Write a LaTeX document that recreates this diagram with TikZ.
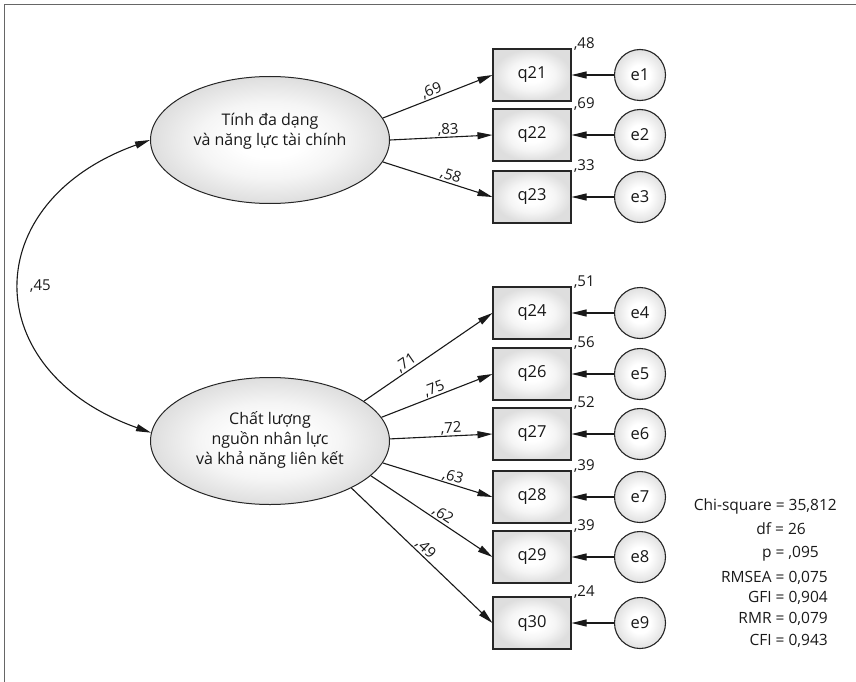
\documentclass[tikz,border=0pt]{standalone}
\usepackage{fontspec}
\setmainfont{Open Sans}
\usetikzlibrary{shapes.geometric,arrows.meta}
\colorlet{glowouter}{black!13}
\colorlet{glowmid}{black!4}
\colorlet{circouter}{black!12}
\pgfdeclareradialshading{boxglow}{\pgfpoint{0bp}{0bp}}{color(0bp)=(white); color(7bp)=(white); color(15bp)=(glowmid); color(25bp)=(glowouter); color(50bp)=(glowouter)}
\pgfdeclareradialshading{circglow}{\pgfpoint{0bp}{0bp}}{color(0bp)=(white); color(10bp)=(white); color(25bp)=(circouter); color(50bp)=(circouter)}
\begin{document}
\begin{tikzpicture}[x=1pt,y=-1pt,
  ln/.style={line width=1.1pt, draw=black!90},
  arr/.style={-{Triangle[length=15pt,width=7pt]}},
  dblarr/.style={{Triangle[length=15pt,width=7pt]}-{Triangle[length=15pt,width=7pt]}},
  latent/.style={ellipse, draw=black!85, line width=1pt, minimum width=239pt, minimum height=127pt, inner sep=0pt, shading=boxglow},
  lattext/.style={align=center, font=\fontsize{16}{20}\selectfont, text=black!90, inner sep=0pt},
  obs/.style={rectangle, draw=black!85, line width=1.1pt, minimum width=78pt, minimum height=52pt, inner sep=0pt, shading=boxglow, font=\fontsize{16.5}{19}\selectfont, text=black!90},
  err/.style={circle, draw=black!85, line width=1.1pt, minimum size=51pt, inner sep=0pt, shading=circglow, font=\fontsize{16.5}{19}\selectfont, text=black!90},
  ld/.style={font=\fontsize{15}{18}\selectfont, sloped, above, inner sep=0.5pt, text=black!90},
  rsq/.style={font=\fontsize{15}{18}\selectfont, anchor=base west, inner sep=0pt, xshift=2pt, text=black!90},
  fitstat/.style={font=\fontsize{15.5}{18}\selectfont, anchor=base east, inner sep=0pt, text=black!90}
]
\useasboundingbox (0,0) rectangle (856,682);
% frame
\draw[line width=1.5pt, draw=black!60] (4.5,682) -- (4.5,4.5) -- (856,4.5);

% latent variables
\node[latent] (L1) at (270,140) {};
\node[lattext] (L1t) at (270,131) {Tính đa dạng\\và năng lực tài chính};
\node[latent] (L2) at (270,441) {};
\node[lattext] (L2t) at (270,440) {Chất lượng\\nguồn nhân lực\\và khả năng liên kết};

% observed variables
\node[obs] (q21) at (532,75) {q21};
\node[obs] (q22) at (532,135) {q22};
\node[obs] (q23) at (532,197) {q23};
\node[obs] (q24) at (532,313) {q24};
\node[obs] (q26) at (532,374) {q26};
\node[obs] (q27) at (532,434) {q27};
\node[obs] (q28) at (532,497) {q28};
\node[obs] (q29) at (532,557) {q29};
\node[obs] (q30) at (532,623) {q30};

% errors
\node[err] (e1) at (640,75) {e1};
\node[err] (e2) at (640,135) {e2};
\node[err] (e3) at (640,197) {e3};
\node[err] (e4) at (640,313) {e4};
\node[err] (e5) at (640,374) {e5};
\node[err] (e6) at (640,434) {e6};
\node[err] (e7) at (640,497) {e7};
\node[err] (e8) at (640,557) {e8};
\node[err] (e9) at (640,623) {e9};

\foreach \e/\q in {e1/q21,e2/q22,e3/q23,e4/q24,e5/q26,e6/q27,e7/q28,e8/q29,e9/q30}
  \draw[ln,arr] (\e) -- (\q);

% R squared
\node[rsq] (r21) at (q21.north east) {,48};
\node[rsq] (r22) at (q22.north east) {,69};
\node[rsq] (r23) at (q23.north east) {,33};
\node[rsq] (r24) at (q24.north east) {,51};
\node[rsq] (r26) at (q26.north east) {,56};
\node[rsq] (r27) at (q27.north east) {,52};
\node[rsq] (r28) at (q28.north east) {,39};
\node[rsq] (r29) at (q29.north east) {,39};
\node[rsq] (r30) at (q30.north east) {,24};

% loadings
\draw[ln,arr] (L1.11.5) -- node[ld, pos=0.47] {,69} (q21.west);
\draw[ln,arr] (L1.0) -- node[ld, pos=0.57] {,83} (q22.west);
\draw[ln,arr] (L1.-11) -- node[ld, pos=0.6] {,58} (q23.west);
\draw[ln,arr] (L2.23) -- node[ld, pos=0.36] {,71} (q24.west);
\draw[ln,arr] (L2.12.4) -- node[ld, pos=0.5] {,75} (q26.west);
\draw[ln,arr] (L2.1) -- node[ld, pos=0.6] {,72} (q27.west);
\draw[ln,arr] (L2.-11) -- node[ld, pos=0.62] {,63} (q28.west);
\draw[ln,arr] (L2.-19.3) -- node[ld, pos=0.56] {,62} (q29.west);
\draw[ln,arr] (L2.-30.3) -- node[ld, pos=0.49] {,49} (q30.west);

% covariance
\draw[ln,dblarr] (L2.176) .. controls (-23,371) and (-23,202) .. (L1.west)
  node[pos=0.5, anchor=west, xshift=9pt, font=\fontsize{15}{18}\selectfont, text=black!90, inner sep=0pt] (c45) {,45};

% fit statistics
\node[fitstat] (chi) at (837,510.5) {Chi-square = 35,812};
\node[fitstat] (df) at (806,534.5) {df = 26};
\node[fitstat] (pv) at (819,557.5) {p = ,095};
\node[fitstat] (rmsea) at (828,582.5) {RMSEA = 0,075};
\node[fitstat] (gfi) at (828,602.5) {GFI = 0,904};
\node[fitstat] (rmr) at (828,623.5) {RMR = 0,079};
\node[fitstat] (cfi) at (828,645.5) {CFI = 0,943};
\end{tikzpicture}
\end{document}
